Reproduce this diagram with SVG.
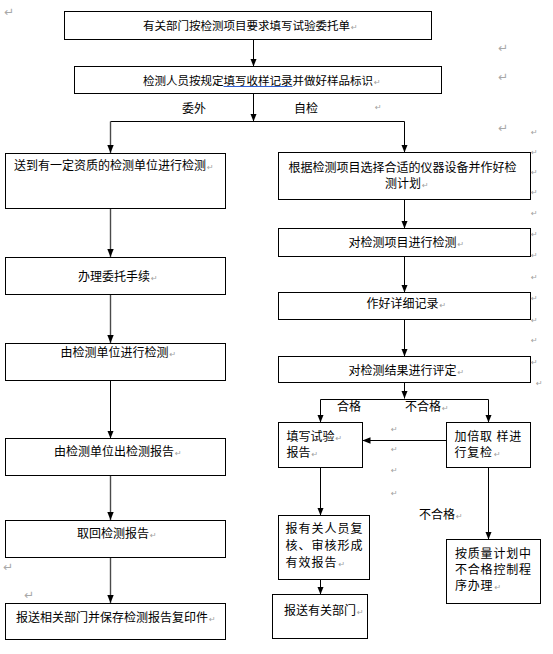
<svg xmlns="http://www.w3.org/2000/svg" width="553" height="654" viewBox="0 0 553 654">
<style>
rect.b{fill:#fff;stroke:#000;stroke-width:1}
.t{font-family:"Noto Sans CJK SC","Noto Sans CJK JP",sans-serif;font-size:12px;fill:#000}
.ts{font-family:"Noto Sans CJK SC","Noto Sans CJK JP",sans-serif;font-size:11.5px;fill:#000}
.tw{font-family:"Noto Sans CJK SC","Noto Sans CJK JP",sans-serif;font-size:12px;letter-spacing:0.8px;fill:#000}
.tw1{font-family:"Noto Sans CJK SC","Noto Sans CJK JP",sans-serif;font-size:12px;letter-spacing:1px;fill:#000}
.m{text-anchor:middle}
.pm,.p{font-family:"DejaVu Sans",sans-serif;font-size:8px;letter-spacing:0;fill:#a0a0a0}
.pl{font-family:"DejaVu Sans",sans-serif;font-size:12px;fill:#a8a8a8}
.c{fill:none;stroke:#000;stroke-width:1}
.cg{fill:none;stroke:#4a4a4a;stroke-width:1.4}
</style>
<defs>
<marker id="ah" markerUnits="userSpaceOnUse" markerWidth="8" markerHeight="8" viewBox="0 0 8 8" refX="8" refY="4" orient="auto">
<path d="M0,0.8 L8,4 L0,7.2 Z" fill="#000"/>
</marker>
</defs>
<rect width="553" height="654" fill="#fff"/>

<g id="connectors">
<line class="c" x1="253.5" y1="39.5" x2="253.5" y2="66.5" marker-end="url(#ah)"/>
<line class="c" x1="253.5" y1="93.5" x2="253.5" y2="121.5" marker-end="url(#ah)"/>
<line class="c" x1="110.5" y1="121.5" x2="404.5" y2="121.5"/>
<line class="cg" x1="110.5" y1="121.5" x2="110.5" y2="153" marker-end="url(#ah)"/>
<line class="c" x1="404.5" y1="121.5" x2="404.5" y2="152.5" marker-end="url(#ah)"/>
<line class="cg" x1="110.5" y1="208.5" x2="110.5" y2="257" marker-end="url(#ah)"/>
<line class="cg" x1="110.5" y1="294.5" x2="110.5" y2="343" marker-end="url(#ah)"/>
<line class="c" x1="110.5" y1="380.5" x2="110.5" y2="438.5" marker-end="url(#ah)"/>
<line class="cg" x1="110.5" y1="475.5" x2="110.5" y2="520" marker-end="url(#ah)"/>
<line class="cg" x1="110.5" y1="557.5" x2="110.5" y2="603" marker-end="url(#ah)"/>
<line class="c" x1="404.5" y1="199.5" x2="404.5" y2="228.5" marker-end="url(#ah)"/>
<line class="c" x1="404.5" y1="256.5" x2="404.5" y2="292.5" marker-end="url(#ah)"/>
<line class="c" x1="404.5" y1="319.5" x2="404.5" y2="356.5" marker-end="url(#ah)"/>
<line class="c" x1="404.5" y1="382.5" x2="404.5" y2="398.5" marker-end="url(#ah)"/>
<polyline class="c" points="320.5,422.5 320.5,399.5 488.5,399.5 488.5,422.5"/>
<line class="c" x1="320.5" y1="400" x2="320.5" y2="422.5" marker-end="url(#ah)"/>
<line class="c" x1="488.5" y1="400" x2="488.5" y2="422.5" marker-end="url(#ah)"/>
<line class="c" x1="446.5" y1="440.5" x2="362.5" y2="440.5" marker-end="url(#ah)"/>
<line class="c" x1="320.5" y1="467.5" x2="320.5" y2="515.5" marker-end="url(#ah)"/>
<line class="c" x1="320.5" y1="579.5" x2="320.5" y2="594.5" marker-end="url(#ah)"/>
<line class="c" x1="488.5" y1="467.5" x2="488.5" y2="539.5" marker-end="url(#ah)"/>
</g>

<g id="labels">
<text class="t m" x="194" y="112.5">委外</text>
<text class="t m" x="306" y="112.5">自检</text>
<text class="t m" x="349" y="410.5">合格</text>
<text class="t" x="405" y="410.5">不合格<tspan class="p" dx="1">↵</tspan></text>
<text class="t" x="419" y="519">不合格<tspan class="p" dx="1">↵</tspan></text>
</g>

<g id="n1"><rect class="b" x="64.5" y="11.5" width="367" height="28"/><text class="ts" x="143" y="29.5">有关部门按检测项目要求填写试验委托单<tspan class="p" dx="1">↵</tspan></text></g>
<g id="n2"><rect class="b" x="74.5" y="66.5" width="367" height="27"/><text class="ts" x="143" y="84.5">检测人员按规定填写收样记录并做好样品标识<tspan class="p" dx="1">↵</tspan></text><line x1="223.5" y1="86.5" x2="292.5" y2="86.5" stroke="#2f5fd0" stroke-width="1"/></g>

<g id="L1"><rect class="b" x="5.5" y="153.5" width="220" height="55"/><text class="t" x="14" y="169.5">送到有一定资质的检测单位进行检测<tspan class="p" dx="1">↵</tspan></text></g>
<g id="L2"><rect class="b" x="5.5" y="257.5" width="220" height="37"/><text class="t" x="78" y="280.5">办理委托手续<tspan class="p" dx="1">↵</tspan></text></g>
<g id="L3"><rect class="b" x="5.5" y="343.5" width="220" height="37"/><text class="t" x="60.5" y="356.5">由检测单位进行检测<tspan class="p" dx="1">↵</tspan></text></g>
<g id="L4"><rect class="b" x="5.5" y="438.5" width="220" height="37"/><text class="t" x="54" y="456">由检测单位出检测报告<tspan class="p" dx="1">↵</tspan></text></g>
<g id="L5"><rect class="b" x="5.5" y="520.5" width="220" height="37"/><text class="t" x="77" y="537.5">取回检测报告<tspan class="p" dx="1">↵</tspan></text></g>
<g id="L6"><rect class="b" x="5.5" y="603.5" width="220" height="36"/><text class="t" x="16" y="621.5">报送相关部门并保存检测报告复印件<tspan class="p" dx="1">↵</tspan></text></g>

<g id="R1"><rect class="b" x="278.5" y="152.5" width="252" height="47"/><text class="t" x="288.5" y="171.5">根据检测项目选择合适的仪器设备并作好检</text><text class="t" x="385" y="187.5">测计划<tspan class="p" dx="1">↵</tspan></text></g>
<g id="R2"><rect class="b" x="278.5" y="228.5" width="252" height="28"/><text class="t" x="348.5" y="247">对检测项目进行检测<tspan class="p" dx="1">↵</tspan></text></g>
<g id="R3"><rect class="b" x="278.5" y="292.5" width="252" height="27"/><text class="t" x="366.5" y="308">作好详细记录<tspan class="p" dx="1">↵</tspan></text></g>
<g id="R4"><rect class="b" x="278.5" y="356.5" width="252" height="26"/><text class="t" x="348.5" y="375">对检测结果进行评定<tspan class="p" dx="1">↵</tspan></text></g>
<g id="R5a"><rect class="b" x="278.5" y="422.5" width="84" height="45"/><text class="t" x="286.5" y="440.5">填写试验<tspan class="p" dx="1">↵</tspan></text><text class="t" x="286.5" y="456.5">报告<tspan class="p" dx="1">↵</tspan></text></g>
<g id="R5b"><rect class="b" x="446.5" y="422.5" width="84" height="45"/><text class="tw" x="454.5" y="440.5">加倍取 样进</text><text class="tw" x="454.5" y="456.5">行复检<tspan class="p" dx="1">↵</tspan></text></g>
<g id="R6a"><rect class="b" x="278.5" y="515.5" width="91" height="64"/><text class="tw1" x="285.5" y="533">报有关人员复</text><text class="tw1" x="285.5" y="550">核、审核形成</text><text class="tw1" x="285.5" y="567">有效报告<tspan class="p" dx="1">↵</tspan></text></g>
<g id="R7"><rect class="b" x="272.5" y="594.5" width="95" height="44"/><text class="t" x="284" y="614.5">报送有关部门<tspan class="p" dx="1">↵</tspan></text></g>
<g id="R8"><rect class="b" x="446.5" y="539.5" width="94" height="64"/><text class="tw" x="455" y="557.5">按质量计划中</text><text class="tw" x="455" y="573.5">不合格控制程</text><text class="tw" x="455" y="589.5">序办理<tspan class="p" dx="1">↵</tspan></text></g>

<g id="marks">
<text class="pl" x="4" y="16">↵</text>
<text class="pl" x="498" y="52">↵</text>
<text class="pl" x="498" y="81">↵</text>
<text class="pl" x="498" y="132">↵</text>
<text class="pl" x="3" y="571">↵</text>
<text class="pl" x="24" y="599">↵</text>
<text class="pm" x="375" y="110">↵</text>
<text class="pm" x="531" y="135">↵</text>
<text class="pm" x="531" y="155">↵</text>
<text class="pm" x="531" y="175">↵</text>
<text class="pm" x="531" y="195">↵</text>
<text class="pm" x="531" y="216">↵</text>
<text class="pm" x="531" y="237">↵</text>
<text class="pm" x="531" y="258">↵</text>
<text class="pm" x="531" y="280">↵</text>
<text class="pm" x="531" y="301">↵</text>
<text class="pm" x="531" y="323">↵</text>
<text class="pm" x="531" y="343">↵</text>
<text class="pm" x="531" y="365">↵</text>
<text class="pm" x="536" y="386">↵</text>
<text class="pm" x="391" y="432">↵</text>
<text class="pm" x="391" y="452">↵</text>
<text class="pm" x="391" y="473">↵</text>
<text class="pm" x="391" y="496">↵</text>
</g>
</svg>
